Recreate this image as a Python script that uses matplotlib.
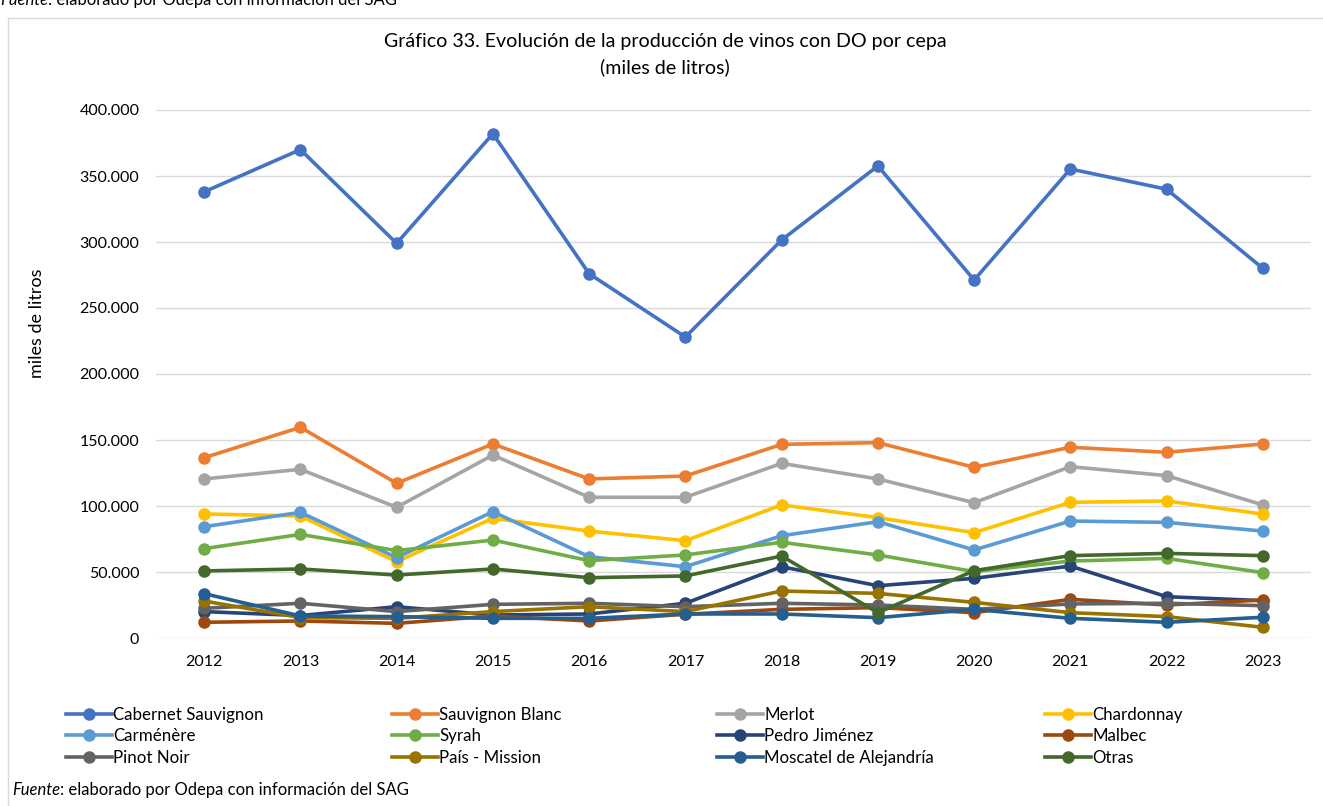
import matplotlib
matplotlib.use("Agg")
import matplotlib.pyplot as plt
from matplotlib.ticker import FuncFormatter
from matplotlib.patches import Rectangle

plt.rcParams['font.family'] = ['Lato', 'DejaVu Sans']

years = [2012, 2013, 2014, 2015, 2016, 2017, 2018, 2019, 2020, 2021, 2022, 2023]

# miles de litros
cabernet = [338000, 370000, 299000, 382000, 276000, 228000, 301500, 357600, 271200, 355300, 340000, 280000]
sauvignon_blanc = [136600, 159600, 117200, 147000, 120500, 122700, 146700, 148000, 129300, 144500, 140700, 147000]
merlot = [120500, 127800, 99000, 138600, 106600, 106600, 132300, 120500, 102500, 129800, 123000, 100800]
chardonnay = [94000, 92400, 57800, 90700, 81000, 73700, 100800, 91200, 79800, 102800, 103800, 93900]
carmenere = [84300, 95200, 60900, 95700, 61600, 54000, 77500, 88100, 66700, 88600, 87600, 81000]
syrah = [67700, 78500, 66200, 74200, 58600, 62900, 72500, 62900, 50300, 58300, 60300, 49500]
pedro_jimenez = [20000, 17000, 23700, 17400, 18200, 26300, 54000, 39600, 45200, 54500, 31300, 28300]
malbec = [11900, 12900, 11100, 16700, 12900, 18000, 21700, 23000, 19200, 29300, 25000, 28800]
pinot_noir = [22500, 26300, 20000, 25500, 26300, 23700, 26300, 25000, 21700, 25800, 26300, 24500]
pais_mission = [28000, 15500, 14900, 20000, 23700, 20000, 35600, 33800, 27000, 19200, 16200, 8100]
moscatel = [33600, 16700, 16200, 14900, 14900, 18200, 18200, 15400, 21700, 14900, 11900, 15700]
otras = [50800, 52300, 47700, 52300, 45700, 47000, 62100, 19200, 51000, 62400, 64100, 62400]

names = ["Cabernet Sauvignon", "Sauvignon Blanc", "Merlot", "Chardonnay",
         "Carménère", "Syrah", "Pedro Jiménez", "Malbec",
         "Pinot Noir", "País - Mission", "Moscatel de Alejandría", "Otras"]
series = [cabernet, sauvignon_blanc, merlot, chardonnay,
          carmenere, syrah, pedro_jimenez, malbec,
          pinot_noir, pais_mission, moscatel, otras]
colors = ["#4472C4", "#ED7D31", "#A5A5A5", "#FFC000",
          "#5B9BD5", "#70AD47", "#264478", "#9E480E",
          "#636363", "#997300", "#255E91", "#43682B"]

fig = plt.figure(figsize=(13.23, 8.06), dpi=100)

# outer chart border
fig.patches.append(Rectangle((8 / 1323, -0.01), 1.0, 1 - 18 / 806 + 0.01,
                             transform=fig.transFigure, fill=False,
                             edgecolor="#D9D9D9", linewidth=1))

ax = fig.add_axes([156 / 1323, 168 / 806, 1155 / 1323, 528 / 806])

handles = []
for name, vals, c in zip(names, series, colors):
    h, = ax.plot(range(len(years)), vals, color=c, linewidth=2.6,
                 marker="o", markersize=8, label=name)
    handles.append(h)

ax.set_xlim(-0.5, len(years) - 0.5)
ax.set_ylim(0, 400000)
ax.set_yticks(range(0, 400001, 50000))
ax.yaxis.set_major_formatter(FuncFormatter(lambda v, p: f"{int(v):,}".replace(",", ".")))
ax.set_xticks(range(len(years)))
ax.set_xticklabels([str(y) for y in years])
ax.tick_params(length=0, labelsize=11.5, colors="#000000", pad=12)
ax.grid(axis="y", color="#D9D9D9", linewidth=1)
ax.set_axisbelow(True)
for s in ax.spines.values():
    s.set_visible(False)

fig.text(665 / 1323, 1 - 42 / 806, "Gráfico 33. Evolución de la producción de vinos con DO por cepa",
         ha="center", va="center", fontsize=14.1)
fig.text(665 / 1323, 1 - 67 / 806, "(miles de litros)", ha="center", va="center", fontsize=14.1)
fig.text(37 / 1323, 1 - 323 / 806, "miles de litros", rotation=90,
         ha="center", va="center", fontsize=13)

# legend: 4 columns placed at fixed positions, read row by row
col_x = [59, 385, 710, 1038]
for j in range(4):
    hs = [handles[i] for i in range(j, 12, 4)]
    fig.legend(handles=hs, loc="upper left",
               bbox_to_anchor=(col_x[j] / 1323, 1 - 700 / 806),
               frameon=False, fontsize=12.2, handlelength=2.7,
               handletextpad=0.1, labelspacing=0.33, borderaxespad=0)


def source_note(x, y, va):
    # italic word followed by regular text
    f1 = fig.text(x / 1323, y, "Fuente", style="italic", ha="left", va=va, fontsize=12)
    fig.canvas.draw()
    bb = f1.get_window_extent()
    fig.text(bb.x1 / 1323, y, ": elaborado por Odepa con información del SAG",
             ha="left", va=va, fontsize=12)


# source line of the previous chart, cut off at the top edge as in the original
source_note(0, 1 - 5 / 806, "baseline")
source_note(12, 1 - 790 / 806, "center")

fig.savefig("out.png", dpi=100)
